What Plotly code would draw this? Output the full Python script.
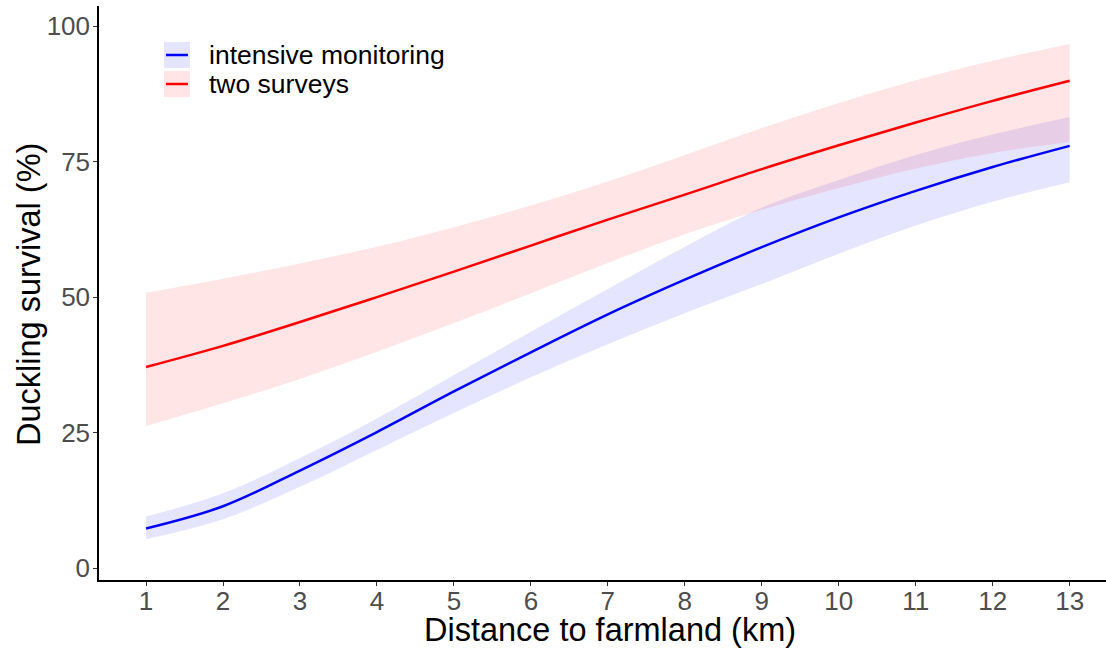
import plotly.graph_objects as go

# Data
distance_km = [1, 2, 3, 4, 5, 6, 7, 8, 9, 10, 11, 12, 13]

intensive_mean = [7.3, 11.4, 18.0, 25.1, 32.6, 39.8, 46.8, 53.2, 59.2, 64.7, 69.6, 74.0, 77.9]
intensive_upper = [9.5, 13.8, 20.3, 27.6, 35.6, 43.6, 51.5, 59.3, 66.5, 71.6, 76.2, 80.0, 83.2]
intensive_lower = [5.3, 9.0, 15.0, 21.8, 28.6, 35.2, 41.3, 47.0, 52.4, 58.0, 63.2, 67.6, 71.2]

survey_mean = [37.1, 41.0, 45.4, 50.0, 54.7, 59.5, 64.3, 68.9, 73.6, 78.0, 82.2, 86.2, 89.9]
survey_upper = [50.8, 53.4, 56.2, 59.3, 62.9, 66.9, 71.3, 76.2, 81.2, 85.8, 90.0, 93.6, 96.7]
survey_lower = [26.2, 30.4, 34.9, 39.9, 45.2, 50.7, 56.3, 61.6, 66.1, 70.1, 73.7, 76.6, 78.6]

x_ticks = list(range(1, 14))
y_ticks = [0, 25, 50, 75, 100]
series_names = ["intensive monitoring", "two surveys"]

BLUE = "#0000FF"
RED = "#FF0000"
BLUE_FILL = "rgba(0,0,255,0.1)"
RED_FILL = "rgba(255,0,0,0.1)"
FONT = "Liberation Sans, Arial, sans-serif"

W, H = 1106, 649
L, R, T, B = 99, 0, 6, 69
PW, PH = W - L - R, H - T - B


def px_x(px):
    return (px - L) / PW


def px_y(py):
    return (H - B - py) / PH


fig = go.Figure()

for upper, lower, fillc in [(intensive_upper, intensive_lower, BLUE_FILL),
                            (survey_upper, survey_lower, RED_FILL)]:
    fig.add_trace(go.Scatter(x=distance_km, y=upper, mode="lines",
                             line=dict(width=0, shape="spline"), showlegend=False,
                             hoverinfo="skip"))
    fig.add_trace(go.Scatter(x=distance_km, y=lower, mode="lines",
                             line=dict(width=0, shape="spline"), fill="tonexty",
                             fillcolor=fillc, showlegend=False, hoverinfo="skip"))

for mean, col, name in [(intensive_mean, BLUE, series_names[0]),
                        (survey_mean, RED, series_names[1])]:
    fig.add_trace(go.Scatter(x=distance_km, y=mean, mode="lines", name=name,
                             line=dict(color=col, width=2.5, shape="spline"),
                             showlegend=False))

# Manual legend (ggplot style keys)
shapes = []
annotations = []
key_rows = [(42, 68, BLUE_FILL, BLUE, series_names[0]), (71, 97, RED_FILL, RED, series_names[1])]
for y0, y1, fillc, linec, name in key_rows:
    shapes.append(dict(type="rect", xref="paper", yref="paper",
                       x0=px_x(164), x1=px_x(190), y0=px_y(y1), y1=px_y(y0),
                       fillcolor=fillc, line=dict(width=0), layer="above"))
    yc = (y0 + y1) / 2
    shapes.append(dict(type="line", xref="paper", yref="paper",
                       x0=px_x(166), x1=px_x(188), y0=px_y(yc), y1=px_y(yc),
                       line=dict(color=linec, width=2.5), layer="above"))
    annotations.append(dict(text=name, xref="paper", yref="paper",
                            x=px_x(207), y=px_y(yc), xanchor="left", yanchor="middle",
                            showarrow=False, font=dict(family=FONT, size=26.5, color="black")))

annotations.append(dict(text="Distance to farmland (km)", xref="paper", yref="paper",
                        x=px_x(610), y=px_y(630), xanchor="center", yanchor="middle",
                        showarrow=False, font=dict(family=FONT, size=32.5, color="black")))
annotations.append(dict(text="Duckling survival (%)", xref="paper", yref="paper",
                        x=px_x(29), y=px_y(295), xanchor="center", yanchor="middle",
                        textangle=-90, showarrow=False,
                        font=dict(family=FONT, size=32.5, color="black")))

fig.update_layout(
    width=W, height=H,
    margin=dict(l=L, r=R, t=T, b=B, pad=0),
    paper_bgcolor="white", plot_bgcolor="white",
    shapes=shapes, annotations=annotations,
    showlegend=False,
    font=dict(family=FONT),
)

fig.update_xaxes(range=[0.389, 13.472], tickvals=x_ticks, ticktext=[str(v) for v in x_ticks],
                 showgrid=False, zeroline=False, showline=True, linecolor="black", linewidth=1.5,
                 ticks="outside", ticklen=4, tickwidth=1.2, tickcolor="#333333",
                 ticklabelstandoff=-7,
                 tickfont=dict(family=FONT, size=26, color="#4D4D4D"))
fig.update_yaxes(range=[-2.2, 103.7], tickvals=y_ticks, ticktext=[str(v) for v in y_ticks],
                 showgrid=False, zeroline=False, showline=True, linecolor="black", linewidth=1.5,
                 ticks="outside", ticklen=4, tickwidth=1.2, tickcolor="#333333",
                 ticklabelstandoff=-2,
                 tickfont=dict(family=FONT, size=26, color="#4D4D4D"))

fig.write_html("out.html")
